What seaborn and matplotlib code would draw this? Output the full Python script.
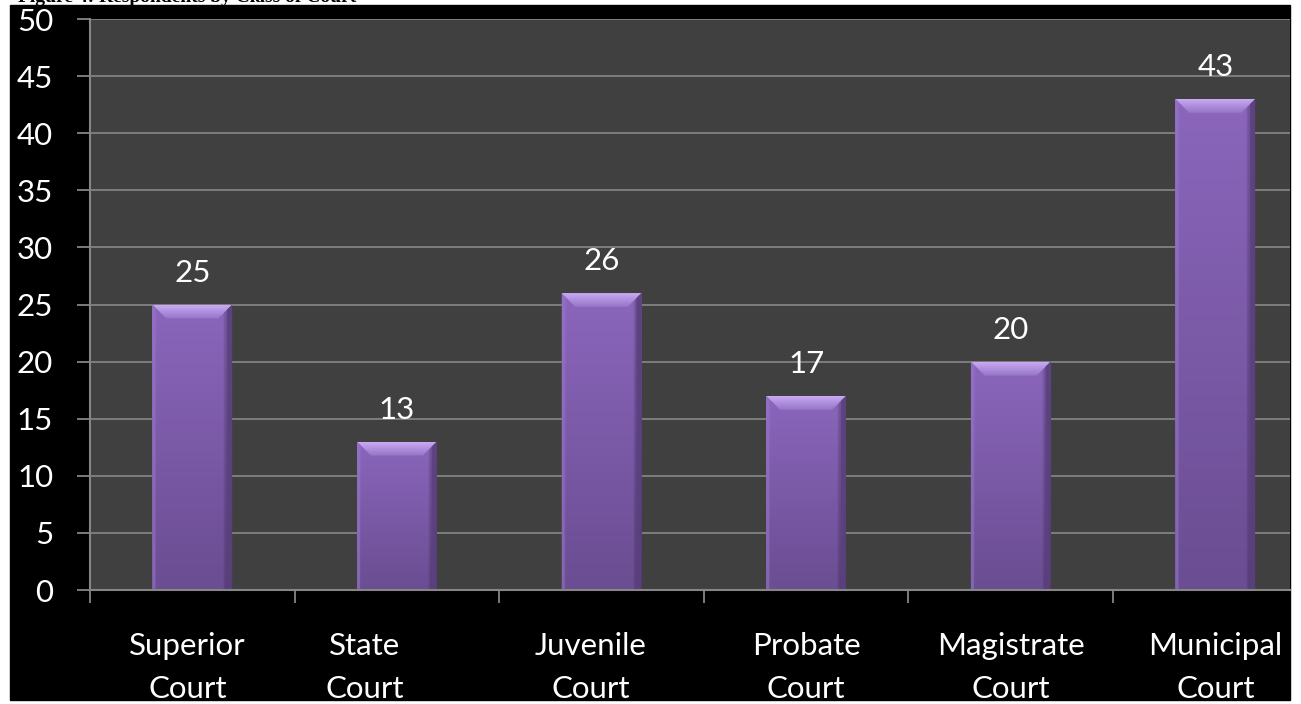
import numpy as np
import pandas as pd
import seaborn as sns
import matplotlib.pyplot as plt
import matplotlib.transforms as mtransforms
from matplotlib.patches import Rectangle, Polygon
from matplotlib.colors import to_rgb

# Chart data
courts = ["Superior\nCourt", "State\nCourt", "Juvenile\nCourt",
          "Probate\nCourt", "Magistrate\nCourt", "Municipal\nCourt"]
respondents = [25, 13, 26, 17, 20, 43]
y_ticks = [0, 5, 10, 15, 20, 25, 30, 35, 40, 45, 50]
title = "Figure 4: Respondents by Class of Court"

sns.set_theme(style="dark")
plt.rcParams["font.family"] = ["Lato", "DejaVu Sans"]

W, H = 1301, 704
fig = plt.figure(figsize=(W / 100, H / 100), dpi=100, facecolor="white")

# black slide background
fig.patches.append(Rectangle((10 / W, 4 / H), 1280 / W, 695 / H,
                             transform=fig.transFigure, color="black", zorder=-10))
fig.text(18 / W, 1 - 1.5 / H, title, family="Liberation Serif", weight="bold",
         fontsize=14, color="black", va="baseline", ha="left")

ax = fig.add_axes([90 / W, 114 / H, 1200 / W, 571 / H])
ax.set_facecolor("#404040")

df = pd.DataFrame({"court": courts, "respondents": respondents})
sns.barplot(data=df, x="court", y="respondents", color="#8461b4", saturation=1,
            width=0.39, linewidth=0, ax=ax, zorder=2)

XLIM = (-0.5, 5.365)
YLIM = (0, 50)
ax.set_xlim(*XLIM)
ax.set_ylim(*YLIM)

# pixel -> data scale factors for the bevel
px_x = (XLIM[1] - XLIM[0]) / 1200
px_y = (YLIM[1] - YLIM[0]) / 571


def vgrad(c_top, c_bot, n=64):
    t = np.linspace(0, 1, n)[:, None]
    a, b = np.array(to_rgb(c_top)), np.array(to_rgb(c_bot))
    return a * (1 - t) + b * t  # row 0 = top


for p in list(ax.patches):
    x0, w, h = p.get_x(), p.get_width(), p.get_height()
    x1 = x0 + w
    # body gradient: lighter at top, darker toward the base, dark right edge
    col = vgrad("#8b66bc", "#6a4d92")
    hx = np.linspace(0, 1, 40)
    shade = np.where(hx > 0.9, 0.72 + 0.28 * (1 - (hx - 0.9) / 0.1) * 0.6, 1.0)
    shade = np.where(hx < 0.05, 1.05, shade)
    img = np.clip(col[:, None, :] * shade[None, :, None], 0, 1)
    im = ax.imshow(img, extent=[x0, x1, 0, h], aspect="auto", origin="upper",
                   zorder=2.1, interpolation="bilinear")
    im.set_clip_path(p)
    # top bevel
    bx, by = 14 * px_x, 14 * px_y
    top = Polygon([(x0, h), (x1, h), (x1 - bx, h - by), (x0 + bx, h - by)],
                  closed=True, facecolor="none", edgecolor="none", zorder=2.2)
    ax.add_patch(top)
    timg = vgrad("#c9aaf4", "#9574c6", 32)[:, None, :].repeat(4, axis=1)
    tim = ax.imshow(timg, extent=[x0, x1, h - by, h], aspect="auto", origin="upper",
                    zorder=2.2, interpolation="bilinear")
    tim.set_clip_path(top)
    # right side bevel
    ax.add_patch(Polygon([(x1, h), (x1 - 5 * px_x, h - 5 * px_y),
                          (x1 - 5 * px_x, 0), (x1, 0)],
                         closed=True, facecolor="#5b4180", edgecolor="none",
                         alpha=0.85, zorder=2.3))
    # left side bevel
    ax.add_patch(Polygon([(x0, h), (x0 + 3 * px_x, h - 3 * px_y),
                          (x0 + 3 * px_x, 0), (x0, 0)],
                         closed=True, facecolor="#9374c2", edgecolor="none",
                         alpha=0.6, zorder=2.3))

ax.set_xlim(*XLIM)
ax.set_ylim(*YLIM)

# value labels
for i, v in enumerate(respondents):
    ax.annotate(str(v), xy=(i, v), xytext=(0, 16.5), textcoords="offset points",
                ha="center", va="baseline", color="white", fontsize=22.5, zorder=5)

# axes styling
ax.set_xlabel("")
ax.set_ylabel("")
ax.set_yticks(y_ticks)
ax.yaxis.grid(True, color="#828282", linewidth=1.3, zorder=0)
ax.xaxis.grid(False)
ax.set_axisbelow(True)
for s in ["top", "right"]:
    ax.spines[s].set_visible(False)
for s in ["left", "bottom"]:
    ax.spines[s].set_visible(True)
    ax.spines[s].set_color("#868686")
    ax.spines[s].set_linewidth(1.5)
    ax.spines[s].set_zorder(4)

ax.tick_params(axis="y", which="major", left=True, length=9.5, width=1.3,
               color="#868686", direction="out", labelcolor="white",
               labelsize=22.5, pad=17)
ax.set_xticks(range(len(courts)))
ax.set_xticks(np.arange(-0.5, 5.0, 1.0), minor=True)
ax.tick_params(axis="x", which="major", bottom=False, length=0, labelcolor="white",
               labelsize=22.5, pad=30)
ax.tick_params(axis="x", which="minor", bottom=True, length=9, width=1.3,
               color="#868686", direction="out")
for lab in ax.get_xticklabels():
    lab.set_linespacing(1.68)

# nudge wrapped labels that sit left of their bar
offsets = {1: -32, 2: -11, 0: -5}
for i, lab in enumerate(ax.get_xticklabels()):
    dx = offsets.get(i, 0)
    if dx:
        lab.set_transform(lab.get_transform() +
                          mtransforms.ScaledTranslation(dx / 100, 0, fig.dpi_scale_trans))

fig.savefig("out.png", dpi=100, facecolor=fig.get_facecolor())
